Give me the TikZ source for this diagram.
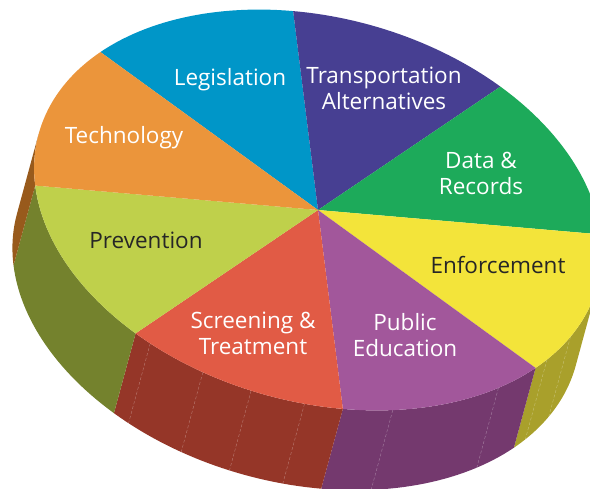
\documentclass[tikz,border=0pt]{standalone}
\usepackage{fontspec}
\setmainfont{Open Sans}
\usetikzlibrary{positioning}

\definecolor{legis}{HTML}{0096C8}
\definecolor{transp}{HTML}{473F92}
\definecolor{datarec}{HTML}{1DAA5A}
\definecolor{enforce}{HTML}{F3E43A}
\definecolor{pubed}{HTML}{A2579B}
\definecolor{screen}{HTML}{E15B45}
\definecolor{prevent}{HTML}{BFD04B}
\definecolor{techno}{HTML}{EB953B}
\definecolor{technoside}{HTML}{985A1C}
\definecolor{preventside}{HTML}{74822D}
\definecolor{screenside}{HTML}{953628}
\definecolor{pubedside}{HTML}{74396E}
\definecolor{enforceside}{HTML}{A9A02B}

\begin{document}
\begin{tikzpicture}[x=1pt, y=-1pt,
  lbl/.style={font=\fontsize{22.5}{26}\selectfont, text=white, align=center},
  lbldark/.style={lbl, text=black!85},
  facet/.style={white, opacity=0.35, line width=0.4pt, densely dashed}]

  \useasboundingbox (0,0) rectangle (590,489);

  % the pie, drawn on a unit circle seen at a slant
  \begin{scope}[shift={(318pt,-210pt)}, x={(279.4pt,-75.9pt)}, y={(-50.4pt,-185.5pt)}]

    % Side walls (front half only)
    \foreach \a/\b/\col in {0/29.75/enforceside, 29.75/74.75/pubedside, 74.75/119.75/screenside,
                            119.75/164.75/preventside, 164.75/180/technoside}
      \fill[\col] plot[domain=\a:\b, samples=30] (\x:1)
        -- plot[domain=\b:\a, samples=30] ({cos(\x)}, {sin(\x)+0.43}) -- cycle;

    \foreach \t in {17, 26, 40.3, 64.5, 82.5, 93.4, 103.7, 116}
      \draw[facet] (\t:1) -- ({cos(\t)}, {sin(\t)+0.43});

    % Top face
    \foreach \a/\b/\col in {209.75/254.75/legis, 254.75/299.75/transp, 299.75/344.75/datarec,
                            344.75/389.75/enforce, 389.75/434.75/pubed, 434.75/479.75/screen,
                            479.75/524.75/prevent, 524.75/569.75/techno}
      \fill[\col] (0,0) -- plot[domain=\a:\b, samples=30] (\x:1) -- cycle;

  \end{scope}

  % Labels
  \node[lbl] (legislation) at (230,80) {Legislation};
  \node[lbl] (technology) at (124,138) {Technology};
  \node[lbldark] (prevention) at (146,240) {Prevention};
  \node[lbl] (transport) at (384,88) {Transportation\\Alternatives};
  \node[lbl] (datarecords) at (481,173) {Data \&\\Records};
  \node[lbldark] (enforcement) at (498,265) {Enforcement};
  \node[lbl] (screening) at (253,333) {Screening \&\\Treatment};
  \node[lbl] (publiced) at (405,335) {Public\\Education};

\end{tikzpicture}
\end{document}
